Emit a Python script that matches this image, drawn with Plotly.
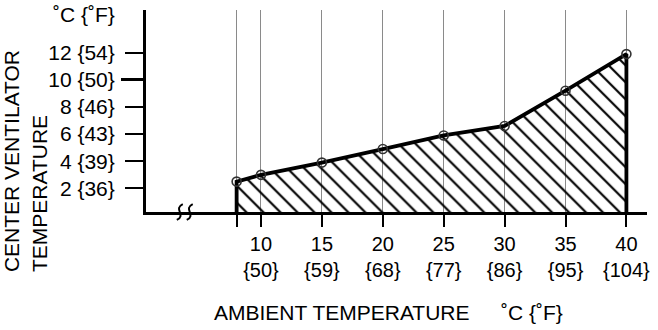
import plotly.graph_objects as go

# ---- data ----
ambient_c = [8, 10, 15, 20, 25, 30, 35, 40]
vent_c = [2.5, 3.0, 3.9, 4.9, 5.9, 6.6, 9.2, 11.9]

x_tick_vals = [8, 10, 15, 20, 25, 30, 35, 40]
x_tick_text = ["", "10<br>{50}", "15<br>{59}", "20<br>{68}", "25<br>{77}",
               "30<br>{86}", "35<br>{95}", "40<br>{104}"]
y_tick_vals = [2, 4, 6, 8, 10, 12]
y_tick_text = ["2 {36}", "4 {39}", "6 {43}", "8 {46}", "10 {50}", "12 {54}"]

x_range = [0.56, 41.69]
y_range = [0.26, 15.15]

FONT = "Liberation Sans, Arial, Helvetica, sans-serif"

fig = go.Figure()

# hatched region under the curve
base = y_range[0]
poly_x = [ambient_c[0]] + ambient_c + [ambient_c[-1]]
poly_y = [base] + vent_c + [base]
fig.add_trace(go.Scatter(
    x=poly_x, y=poly_y, mode="lines", fill="toself",
    fillcolor="black",
    fillpattern=dict(shape="\\", fgcolor="black", bgcolor="rgba(0,0,0,0)",
                     fgopacity=1, fillmode="replace",
                     size=12, solidity=0.18),
    line=dict(color="black", width=3.8), hoverinfo="skip", showlegend=False,
))
# point markers
fig.add_trace(go.Scatter(
    x=ambient_c, y=vent_c, mode="markers",
    marker=dict(symbol="circle-open", size=9, color="#333",
                line=dict(width=1.6, color="#333")),
    showlegend=False,
))
# dummy trace for the emphasized tick axis
fig.add_trace(go.Scatter(x=[None], y=[None], yaxis="y2", showlegend=False))

fig.update_layout(
    width=658, height=330,
    margin=dict(l=146, r=8, t=10, b=117.5),
    paper_bgcolor="white", plot_bgcolor="white",
    font=dict(family=FONT, size=20, color="black"),
    xaxis=dict(
        range=x_range, tickvals=x_tick_vals, ticktext=x_tick_text,
        ticks="outside", ticklen=12, tickwidth=1.5, tickcolor="black",
        showgrid=True, gridcolor="#8a8a8a", gridwidth=1,
        showline=True, linecolor="black", linewidth=3, zeroline=False,
        tickfont=dict(size=20), ticklabelstandoff=0,
    ),
    yaxis=dict(
        range=y_range, tickvals=y_tick_vals, ticktext=y_tick_text,
        ticks="outside", ticklen=18, tickwidth=2, tickcolor="black",
        showgrid=False, showline=True, linecolor="black", linewidth=3,
        zeroline=False, tickfont=dict(size=21), ticklabelstandoff=6,
    ),
    yaxis2=dict(
        overlaying="y", matches="y", side="left", range=y_range,
        tickvals=[10], ticks="outside", ticklen=24, tickwidth=3,
        tickcolor="black", showticklabels=False, showgrid=False,
        showline=False, zeroline=False,
    ),
    annotations=[
        dict(text="˚C {˚F}", xref="paper", yref="paper",
             x=(84 - 146) / 504, y=(212.5 - 15) / 202.5,
             xanchor="center", yanchor="middle", showarrow=False,
             font=dict(size=21)),
        dict(text="AMBIENT TEMPERATURE", xref="paper", yref="paper",
             x=(343 - 146) / 504, y=(212.5 - 313) / 202.5,
             xanchor="center", yanchor="middle", showarrow=False,
             font=dict(size=21)),
        dict(text="˚C {˚F}", xref="paper", yref="paper",
             x=(534.5 - 146) / 504, y=(212.5 - 313) / 202.5,
             xanchor="center", yanchor="middle", showarrow=False,
             font=dict(size=21)),
        dict(text="CENTER VENTILATOR<br>TEMPERATURE", xref="paper", yref="paper",
             x=(25 - 146) / 504, y=(212.5 - 275) / 202.5,
             xanchor="center", yanchor="bottom", showarrow=False,
             textangle=-90, align="left", font=dict(size=21)),
    ],
)

# axis break symbol (decoration), drawn in paper units converted from pixels
def pt(cx, ox, oy):
    return f"{(cx - 146 + ox) / 504:.5f},{oy / 202.5:.5f}"


for cx in (180, 190):
    path = (f"M {pt(cx, 3, 8)} C {pt(cx, -7, 3)} {pt(cx, 7, -3)} {pt(cx, -3, -8)}")
    fig.add_shape(type="path", xref="paper", yref="paper", path=path,
                  line=dict(color="black", width=2))

fig.write_html("out.html")
